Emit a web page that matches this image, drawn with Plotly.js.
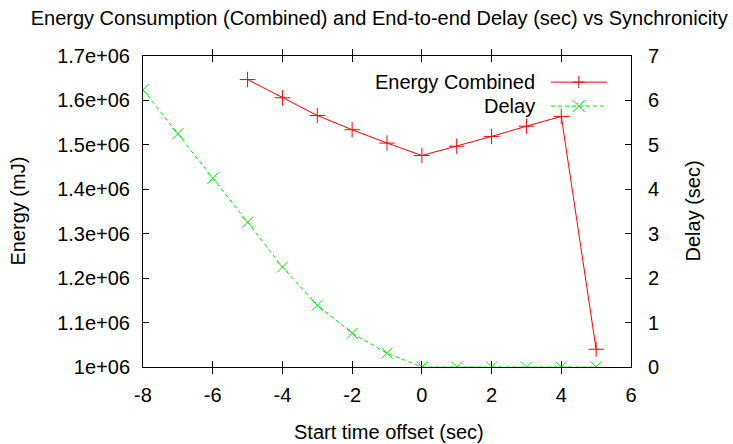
<!DOCTYPE html>
<html>
<head>
<meta charset="utf-8">
<script src="https://cdn.plot.ly/plotly-3.0.1.min.js"></script>
<style>html,body{margin:0;padding:0;background:#fff;}#chart{width:733px;height:444px;}</style>
</head>
<body>
<div id="chart"></div>
<script>
const energyX = [-5, -4, -3, -2, -1, 0, 1, 2, 3, 4, 5];
const energyY = [1.647e6, 1.606e6, 1.566e6, 1.534e6, 1.504e6, 1.476e6, 1.497e6, 1.519e6, 1.542e6, 1.564e6, 1.040e6];
const delayX = [-8, -7, -6, -5, -4, -3, -2, -1, 0, 1, 2, 3, 4, 5];
const delayY = [6.24, 5.25, 4.25, 3.26, 2.25, 1.39, 0.76, 0.31, 0, 0, 0, 0, 0, 0];
const xTickVals = [-8, -6, -4, -2, 0, 2, 4, 6];
const xTickText = ['-8', '-6', '-4', '-2', '0', '2', '4', '6'];
const energyTickVals = [1.0e6, 1.1e6, 1.2e6, 1.3e6, 1.4e6, 1.5e6, 1.6e6, 1.7e6];
const energyTickText = ['1e+06', '1.1e+06', '1.2e+06', '1.3e+06', '1.4e+06', '1.5e+06', '1.6e+06', '1.7e+06'];
const delayTicks = [0, 1, 2, 3, 4, 5, 6, 7];

const FONT = '"Liberation Sans", Arial, sans-serif';
const FS = 20;
const RED = '#ff0000';
const GREEN = '#00ee00';

const traces = [
  {x: energyX, y: energyY, type: 'scatter', mode: 'lines+markers', name: 'Energy Combined',
   line: {color: RED, width: 1}, marker: {symbol: 'cross-thin-open', size: 11, line: {color: RED, width: 1}}, yaxis: 'y'},
  {x: delayX, y: delayY, type: 'scatter', mode: 'lines+markers', name: 'Delay',
   line: {color: GREEN, width: 1, dash: '4px,3px'}, marker: {symbol: 'x-thin-open', size: 11, line: {color: GREEN, width: 1}}, yaxis: 'y2'}
];

function legendKey(yp, color, dash, sym) {
  const s = [{type: 'line', xref: 'paper', yref: 'paper', x0: 0.836, x1: 0.951, y0: yp, y1: yp,
              line: {color: color, width: 1, dash: dash}}];
  const base = {type: 'line', xref: 'paper', yref: 'paper', xsizemode: 'pixel', ysizemode: 'pixel',
                xanchor: 0.893, yanchor: yp, line: {color: color, width: 1}};
  if (sym === '+') {
    s.push(Object.assign({}, base, {x0: 0, x1: 0, y0: -6, y1: 6}));
    s.push(Object.assign({}, base, {x0: -6, x1: 6, y0: 0, y1: 0}));
  } else {
    s.push(Object.assign({}, base, {x0: -6, x1: 6, y0: -6, y1: 6}));
    s.push(Object.assign({}, base, {x0: -6, x1: 6, y0: 6, y1: -6}));
  }
  return s;
}

const layout = {
  width: 733, height: 444,
  margin: {l: 143, r: 102, t: 56, b: 77},
  paper_bgcolor: '#fff', plot_bgcolor: '#fff',
  showlegend: false,
  font: {family: FONT, size: FS, color: '#000'},
  title: {text: 'Energy Consumption (Combined) and End-to-end Delay (sec) vs Synchronicity',
          font: {family: FONT, size: FS, color: '#000'}, x: 0.484, xanchor: 'center', y: 0.96, yanchor: 'middle', xref: 'paper'},
  xaxis: {range: [-8, 6], tickvals: xTickVals, ticktext: xTickText, ticks: 'inside', ticklen: 6, tickcolor: '#000', tickwidth: 1,
          showline: true, linecolor: '#000', linewidth: 1, mirror: 'allticks', showgrid: false, zeroline: false,
          ticklabelstandoff: 10, tickfont: {family: FONT, size: FS}},
  yaxis: {range: [1.0e6, 1.7e6], tickvals: energyTickVals, ticktext: energyTickText, ticks: 'inside', ticklen: 6,
          tickcolor: '#000', showline: true, linecolor: '#000', linewidth: 1, mirror: true, showgrid: false, zeroline: false,
          ticklabelstandoff: 8, tickfont: {family: FONT, size: FS}},
  yaxis2: {range: [0, 7], tickvals: delayTicks, overlaying: 'y', side: 'right', ticks: 'inside', ticklen: 6,
           tickcolor: '#000', showline: true, linecolor: '#000', showgrid: false, zeroline: false,
           ticklabelstandoff: 12, tickfont: {family: FONT, size: FS}},
  annotations: [
    {text: 'Energy (mJ)', xref: 'paper', yref: 'paper', x: -0.258, y: 0.5, textangle: -90, showarrow: false,
     xanchor: 'center', yanchor: 'middle', font: {family: FONT, size: FS}},
    {text: 'Delay (sec)', xref: 'paper', yref: 'paper', x: 1.125, y: 0.5, textangle: -90, showarrow: false,
     xanchor: 'center', yanchor: 'middle', font: {family: FONT, size: FS}},
    {text: 'Start time offset (sec)', xref: 'paper', yref: 'paper', x: 0.505, y: -0.209, showarrow: false,
     xanchor: 'center', yanchor: 'middle', font: {family: FONT, size: FS}},
    {text: 'Energy Combined', xref: 'paper', yref: 'paper', x: 0.807, y: 0.916, showarrow: false,
     xanchor: 'right', yanchor: 'middle', font: {family: FONT, size: FS}},
    {text: 'Delay', xref: 'paper', yref: 'paper', x: 0.807, y: 0.839, showarrow: false,
     xanchor: 'right', yanchor: 'middle', font: {family: FONT, size: FS}}
  ],
  shapes: [].concat(legendKey(0.916, RED, 'solid', '+'), legendKey(0.839, GREEN, '4px,3px', 'x'))
};

Plotly.newPlot('chart', traces, layout, {displayModeBar: false, staticPlot: true});
</script>
</body>
</html>
